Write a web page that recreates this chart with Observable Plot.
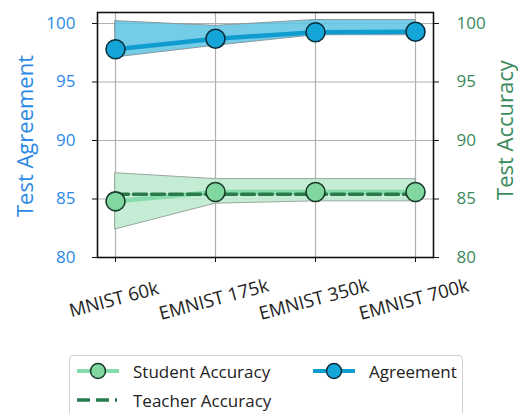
<!DOCTYPE html>
<html><head><meta charset="utf-8">
<script src="https://cdn.jsdelivr.net/npm/d3@7"></script>
<script src="https://cdn.jsdelivr.net/npm/@observablehq/plot@0.6"></script>
<style>
body{margin:0;background:#fff;font-family:"Open Sans",sans-serif;}
#wrap{position:relative;width:518px;height:413px;overflow:hidden;}
#legend{position:absolute;left:69px;top:355px;width:392px;height:70px;border:1px solid #d0d0d0;border-radius:4px;font-size:17px;color:#222;background:#fff;}
.item{position:absolute;display:flex;align-items:center;}
.item svg{margin-right:14px;}
</style></head><body>
<div id="wrap"><div id="chart"></div><div id="legend"></div></div>
<script>
const categories = ["MNIST 60k", "EMNIST 175k", "EMNIST 350k", "EMNIST 700k"];
const agreement = [97.8, 98.7, 99.25, 99.3];
const agreementLow = [97.1, 98.1, 99.0, 99.0];
const agreementHigh = [100.2, 99.8, 100.3, 100.3];
const studentAcc = [84.8, 85.6, 85.6, 85.6];
const studentLow = [82.4, 84.6, 84.8, 84.8];
const studentHigh = [87.2, 86.7, 86.7, 86.7];
const teacherAcc = [85.4, 85.4, 85.4, 85.4];
const yTicks = [80, 85, 90, 95, 100];

const blue = "#2b8ae6", green = "#3a8a5c";
const rows = categories.map((c, i) => ({
  c, ag: agreement[i], agLo: agreementLow[i], agHi: agreementHigh[i],
  st: studentAcc[i], stLo: studentLow[i], stHi: studentHigh[i], te: teacherAcc[i]
}));

const chart = Plot.plot({
  width: 518, height: 345,
  marginLeft: 97, marginRight: 85, marginTop: 12, marginBottom: 88,
  style: {fontFamily: "Open Sans, sans-serif", fontSize: "17px", background: "#fff"},
  x: {type: "point", domain: categories, padding: 0.168},
  y: {domain: [80, 100.94]},
  marks: [
    Plot.gridX({stroke: "#b0b0b0", strokeOpacity: 1, strokeWidth: 1.2}),
    Plot.gridY({ticks: yTicks, stroke: "#b0b0b0", strokeOpacity: 1, strokeWidth: 1.2}),
    Plot.areaY(rows, {x: "c", y1: "agLo", y2: "agHi", fill: "#5cc3e2", fillOpacity: 0.85, stroke: "#8a9aa0", strokeWidth: 1}),
    Plot.areaY(rows, {x: "c", y1: "stLo", y2: "stHi", fill: "#bfeacf", fillOpacity: 0.9, stroke: "#9aa8a0", strokeWidth: 1}),
    Plot.line(rows, {x: "c", y: "ag", stroke: "#0f9dcf", strokeWidth: 4.5}),
    Plot.line(rows, {x: "c", y: "st", stroke: "#86dcaa", strokeWidth: 4.5}),
    Plot.line(rows, {x: "c", y: "te", stroke: "#2b7a4b", strokeWidth: 3.5, strokeDasharray: "13,5"}),
    Plot.dot(rows, {x: "c", y: "st", r: 9.5, fill: "#80d8a0", stroke: "#183a28", strokeWidth: 1.6}),
    Plot.dot(rows, {x: "c", y: "ag", r: 9.5, fill: "#14a6d8", stroke: "#0a2e3c", strokeWidth: 1.6}),
    Plot.frame({stroke: "#111", strokeWidth: 1.6}),
    Plot.axisY({anchor: "left", ticks: yTicks, tickSize: 5, tickPadding: 17, fill: blue, stroke: "#111", label: null, fontSize: 17}),
    Plot.axisY({anchor: "right", ticks: yTicks, tickSize: 5, tickPadding: 18, fill: green, stroke: "#111", label: null, fontSize: 17}),
    Plot.axisX({tickSize: 5, tickFormat: () => "", label: null, stroke: "#111"}),
    Plot.text(categories, {x: d => d, frameAnchor: "bottom", dy: 48, rotate: -15, textAnchor: "middle", fontSize: 18.5, fill: "#222"}),
    Plot.text(["Test Agreement"], {frameAnchor: "middle", dx: -240, dy: 1, rotate: -90, textAnchor: "middle", fill: blue, fontSize: 22}),
    Plot.text(["Test Accuracy"], {frameAnchor: "middle", dx: 240, dy: -5, rotate: -90, textAnchor: "middle", fill: green, fontSize: 22})
  ]
});
document.getElementById("chart").appendChild(chart);

const legendItems = [
  {label: "Student Accuracy", line: "#86dcaa", dot: "#80d8a0", dotStroke: "#183a28", x: 7, y: 15},
  {label: "Agreement", line: "#0f9dcf", dot: "#14a6d8", dotStroke: "#0a2e3c", x: 243, y: 15},
  {label: "Teacher Accuracy", line: "#2b7a4b", dash: true, x: 7, y: 44}
];
const leg = document.getElementById("legend");
for (const it of legendItems) {
  const div = document.createElement("div");
  div.className = "item";
  div.style.left = it.x + "px";
  div.style.top = (it.y - 11) + "px";
  div.style.height = "22px";
  const svg = d3.create("svg").attr("width", 42).attr("height", 22);
  if (it.dash) {
    svg.append("line").attr("x1", 0).attr("x2", 40).attr("y1", 11).attr("y2", 11)
      .attr("stroke", it.line).attr("stroke-width", 3.5).attr("stroke-dasharray", "13,6");
  } else {
    svg.append("line").attr("x1", 0).attr("x2", 42).attr("y1", 11).attr("y2", 11)
      .attr("stroke", it.line).attr("stroke-width", 4);
    svg.append("circle").attr("cx", 21).attr("cy", 11).attr("r", 7.5)
      .attr("fill", it.dot).attr("stroke", it.dotStroke).attr("stroke-width", 1.5);
  }
  div.appendChild(svg.node());
  const span = document.createElement("span");
  span.textContent = it.label;
  div.appendChild(span);
  leg.appendChild(div);
}
</script>
</body></html>
